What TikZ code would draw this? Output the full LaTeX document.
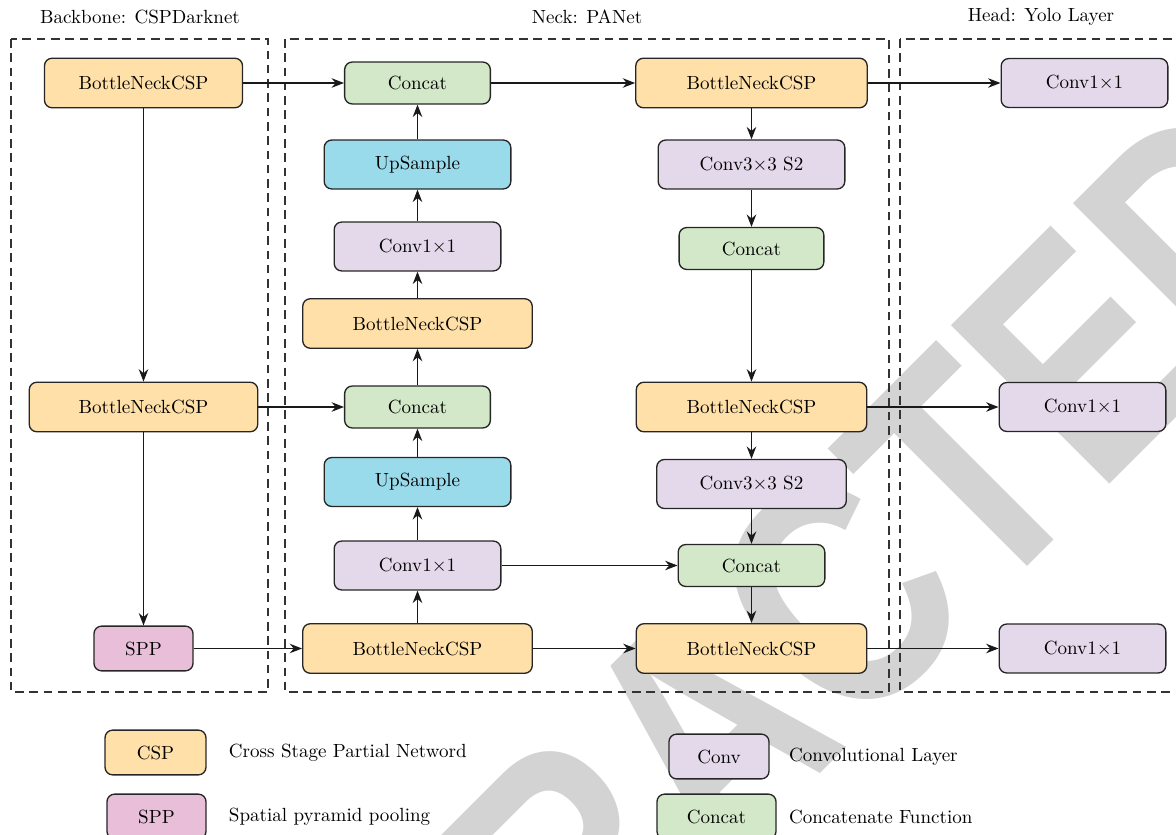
\documentclass[tikz,border=0pt]{standalone}
\usepackage{fontspec}
\newfontfamily\wmfont{Liberation Sans}
\usepackage{xcolor}
\usepackage{tikz}
\usetikzlibrary{arrows.meta, positioning}

\definecolor{cspfill}{RGB}{254,224,168}
\definecolor{catfill}{RGB}{210,232,200}
\definecolor{upfill}{RGB}{153,218,235}
\definecolor{convfill}{RGB}{228,217,234}
\definecolor{sppfill}{RGB}{233,190,216}
\definecolor{wmgray}{RGB}{211,211,211}

\begin{document}
\begin{tikzpicture}[
    x=0.525pt, y=-0.525pt,
    blk/.style={rectangle, draw=black!85, line width=0.7pt, rounded corners=4pt, align=center, inner sep=0pt},
    cspnode/.style={blk, fill=cspfill, minimum height=26pt},
    catnode/.style={blk, fill=catfill, minimum height=22pt},
    upnode/.style={blk, fill=upfill, minimum height=25.7pt},
    convnode/.style={blk, fill=convfill, minimum height=25.7pt},
    sppnode/.style={blk, fill=sppfill, minimum height=23.5pt},
    legtxt/.style={inner sep=0pt, anchor=west},
    region/.style={draw=black!80, dash pattern=on 4.5pt off 3pt, line width=0.6pt},
    arr/.style={-{Stealth[length=6.5pt, width=5pt]}, line width=0.7pt, color=black!90}
]
\useasboundingbox (0,0) rectangle (1176,835);
\clip (0,0) rectangle (1176,835);

% watermark
\node[rotate=45, xscale=0.8, anchor=base, inner sep=0pt, text=wmgray,
      font=\wmfont\bfseries\fontsize{171pt}{171pt}\selectfont] (wm) at (785,809) {RETRACTED};

% titles and regions
\node (t_bb) at (140,17) {Backbone: CSPDarknet};
\node (t_nk) at (587,17) {Neck: PANet};
\node (t_hd) at (1041,17) {Head: Yolo Layer};
\draw[region] (11,39) rectangle (268,692);
\draw[region] (285,39) rectangle (889,692);
\draw[region] (900,39) rectangle (1190,692);

% backbone
\node[cspnode, minimum width=104pt] (bb_csp1) at (143.5,83) {BottleNeckCSP};
\node[cspnode, minimum width=120pt] (bb_csp2) at (143.5,407) {BottleNeckCSP};
\node[sppnode, minimum width=52pt] (bb_spp) at (143.5,648.5) {SPP};

% neck, upward path
\node[catnode, minimum width=76.5pt] (nk_cat1) at (417.5,83) {Concat};
\node[upnode, minimum width=98pt] (nk_up1) at (417.5,164.5) {UpSample};
\node[convnode, minimum width=87.5pt] (nk_conv1) at (417.5,246.5) {Conv1$\times$1};
\node[cspnode, minimum width=120.5pt] (nk_csp1) at (417.5,323.5) {BottleNeckCSP};
\node[catnode, minimum width=76.5pt] (nk_cat2) at (417.5,407) {Concat};
\node[upnode, minimum width=98pt] (nk_up2) at (417.5,482) {UpSample};
\node[convnode, minimum width=87.5pt] (nk_conv2) at (417.5,565.5) {Conv1$\times$1};
\node[cspnode, minimum width=120.5pt] (nk_csp2) at (417.5,648.5) {BottleNeckCSP};

% neck, downward path
\node[cspnode, minimum width=121.5pt] (pn_csp1) at (751.5,83) {BottleNeckCSP};
\node[convnode, minimum width=98pt] (pn_conv1) at (751.5,164.5) {Conv3$\times$3 S2};
\node[catnode, minimum width=76pt] (pn_cat1) at (751.5,248.5) {Concat};
\node[cspnode, minimum width=121pt] (pn_csp2) at (751.5,407) {BottleNeckCSP};
\node[convnode, minimum width=99.5pt] (pn_conv2) at (751.5,484) {Conv3$\times$3 S2};
\node[catnode, minimum width=77pt] (pn_cat2) at (751.5,565.5) {Concat};
\node[cspnode, minimum width=121pt] (pn_csp3) at (751.5,648.5) {BottleNeckCSP};

% head
\node[convnode, minimum width=87.5pt] (hd_conv1) at (1084.5,83) {Conv1$\times$1};
\node[convnode, minimum width=87.5pt] (hd_conv2) at (1082.5,407) {Conv1$\times$1};
\node[convnode, minimum width=87.5pt] (hd_conv3) at (1082.5,648.5) {Conv1$\times$1};

% legend
\node[cspnode, minimum width=53pt, minimum height=23.5pt] (lg_csp) at (155.5,752.5) {CSP};
\node[legtxt, right=11.5pt of lg_csp] (lg_csp_txt) {Cross Stage Partial Netword};
\node[sppnode, minimum width=52pt] (lg_spp) at (156.5,816.5) {SPP};
\node[legtxt, right=11.5pt of lg_spp] (lg_spp_txt) {Spatial pyramid pooling};
\node[convnode, minimum width=52.5pt, minimum height=23.5pt] (lg_conv) at (719,756.5) {Conv};
\node[legtxt, right=10pt of lg_conv] (lg_conv_txt) {Convolutional Layer};
\node[catnode, minimum width=62.5pt, minimum height=23.5pt] (lg_cat) at (716.5,816.5) {Concat};
\node[legtxt, right=6.3pt of lg_cat] (lg_cat_txt) {Concatenate Function};

% backbone links
\draw[arr] (bb_csp1) -- (bb_csp2);
\draw[arr] (bb_csp2) -- (bb_spp);
\draw[arr] (bb_csp1) -- (nk_cat1);
\draw[arr] (bb_csp2) -- (nk_cat2);
\draw[arr] (bb_spp) -- (nk_csp2);

% upward path
\draw[arr] (nk_csp2) -- (nk_conv2);
\draw[arr] (nk_conv2) -- (nk_up2);
\draw[arr] (nk_up2) -- (nk_cat2);
\draw[arr] (nk_cat2) -- (nk_csp1);
\draw[arr] (nk_csp1) -- (nk_conv1);
\draw[arr] (nk_conv1) -- (nk_up1);
\draw[arr] (nk_up1) -- (nk_cat1);

% downward path
\draw[arr] (nk_cat1) -- (pn_csp1);
\draw[arr] (pn_csp1) -- (pn_conv1);
\draw[arr] (pn_conv1) -- (pn_cat1);
\draw[arr] (pn_cat1) -- (pn_csp2);
\draw[arr] (pn_csp2) -- (pn_conv2);
\draw[arr] (pn_conv2) -- (pn_cat2);
\draw[arr] (pn_cat2) -- (pn_csp3);
\draw[arr] (nk_conv2) -- (pn_cat2);
\draw[arr] (nk_csp2) -- (pn_csp3);

% to head
\draw[arr] (pn_csp1) -- (hd_conv1);
\draw[arr] (pn_csp2) -- (hd_conv2);
\draw[arr] (pn_csp3) -- (hd_conv3);

\end{tikzpicture}
\end{document}
